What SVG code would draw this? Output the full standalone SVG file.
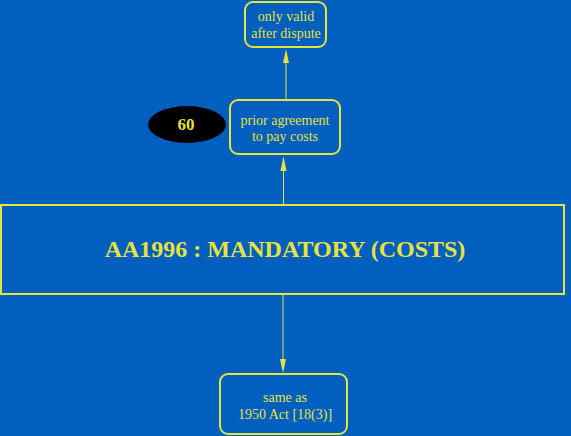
<svg xmlns="http://www.w3.org/2000/svg" width="571" height="436" viewBox="0 0 571 436">
<style>
.box{fill:none;stroke:#e6e33c;stroke-width:2}
.t{font-family:"Liberation Serif",serif;font-size:14px;fill:#e6e33c;text-anchor:middle}
.big{font-family:"Liberation Serif",serif;font-size:24px;font-weight:bold;fill:#e6e33c;text-anchor:middle}
.num{font-family:"Liberation Serif",serif;font-size:17px;font-weight:bold;fill:#e6e33c;text-anchor:middle}
.edge{stroke:#e6e33c;stroke-width:1;fill:none}
.head{fill:#e6e33c}
</style>
<rect width="571" height="436" fill="#005fbf"/>
<g id="connectors">
<line class="edge" x1="286" y1="100" x2="286" y2="60"/>
<path class="head" d="M286,49 L289,63 L283,63 Z"/>
<line class="edge" x1="283.5" y1="205" x2="283.5" y2="168"/>
<path class="head" d="M283.5,156 L286.5,171 L280.5,171 Z"/>
<line class="edge" x1="283" y1="295" x2="283" y2="362"/>
<path class="head" d="M283,373 L280,359 L286,359 Z"/>
</g>
<g id="n_top">
<rect class="box" x="245" y="2" width="81" height="45" rx="8"/>
<text class="t" x="286" y="21">only valid</text>
<text class="t" x="286" y="38">after dispute</text>
</g>
<g id="n_prior">
<rect class="box" x="230" y="100" width="110" height="54" rx="8"/>
<text class="t" x="285" y="125">prior agreement</text>
<text class="t" x="285" y="141">to pay costs</text>
</g>
<g id="n_60">
<ellipse cx="187" cy="124.5" rx="39" ry="18.5" fill="#000"/>
<text class="num" x="186" y="130">60</text>
</g>
<g id="n_main">
<rect class="box" x="1" y="205" width="563" height="89"/>
<text class="big" x="285" y="257">AA1996 : MANDATORY (COSTS)</text>
</g>
<g id="n_bottom">
<rect class="box" x="220" y="374" width="127" height="60" rx="8"/>
<text class="t" x="285" y="402">same as</text>
<text class="t" x="285" y="419">1950 Act [18(3)]</text>
</g>
</svg>
